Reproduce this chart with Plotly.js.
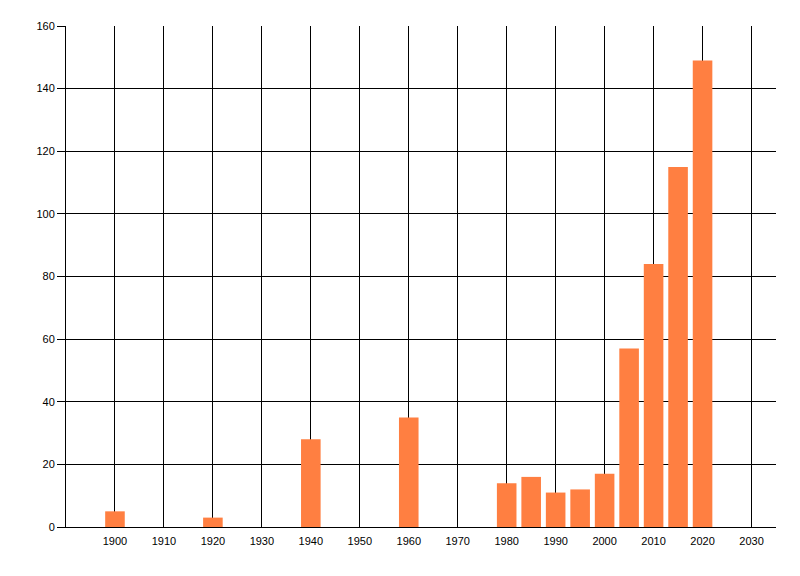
<!DOCTYPE html>
<html>
<head>
<meta charset="utf-8">
<script src="https://cdn.plot.ly/plotly-3.0.1.min.js"></script>
<style>html,body{margin:0;padding:0;background:#fff;}#chart{width:800px;height:576px;}</style>
</head>
<body>
<div id="chart"></div>
<script>
const years = [1900, 1920, 1940, 1960, 1980, 1985, 1990, 1995, 2000, 2005, 2010, 2015, 2020];
const counts = [5, 3, 28, 35, 14, 16, 11, 12, 17, 57, 84, 115, 149];
const xTickVals = [1900, 1910, 1920, 1930, 1940, 1950, 1960, 1970, 1980, 1990, 2000, 2010, 2020, 2030];
const yTickVals = [0, 20, 40, 60, 80, 100, 120, 140, 160];

const trace = {
  type: 'bar',
  x: years,
  y: counts,
  width: 4,
  marker: {color: '#FF7F41', line: {width: 0}},
  hoverinfo: 'x+y'
};

const layout = {
  width: 800,
  height: 576,
  margin: {l: 66, r: 24, t: 26, b: 49, pad: 0},
  paper_bgcolor: '#ffffff',
  plot_bgcolor: '#ffffff',
  showlegend: false,
  font: {family: 'Liberation Sans, Arial, sans-serif', size: 11, color: '#000000'},
  xaxis: {
    range: [1890, 2035],
    tickmode: 'array',
    tickvals: xTickVals,
    ticktext: xTickVals.map(String),
    showgrid: true,
    gridcolor: '#000000',
    gridwidth: 1,
    showline: true,
    linecolor: '#000000',
    linewidth: 1,
    ticks: '',
    ticklabelstandoff: 4,
    zeroline: false,
    fixedrange: true
  },
  yaxis: {
    range: [0, 160],
    tickmode: 'array',
    tickvals: yTickVals,
    ticktext: yTickVals.map(String),
    showgrid: true,
    gridcolor: '#000000',
    gridwidth: 1,
    showline: true,
    linecolor: '#000000',
    linewidth: 1,
    ticks: 'outside',
    ticklen: 8,
    tickwidth: 1,
    tickcolor: '#000000',
    zeroline: false,
    fixedrange: true
  }
};

Plotly.newPlot('chart', [trace], layout, {displayModeBar: false, staticPlot: true});
</script>
</body>
</html>
